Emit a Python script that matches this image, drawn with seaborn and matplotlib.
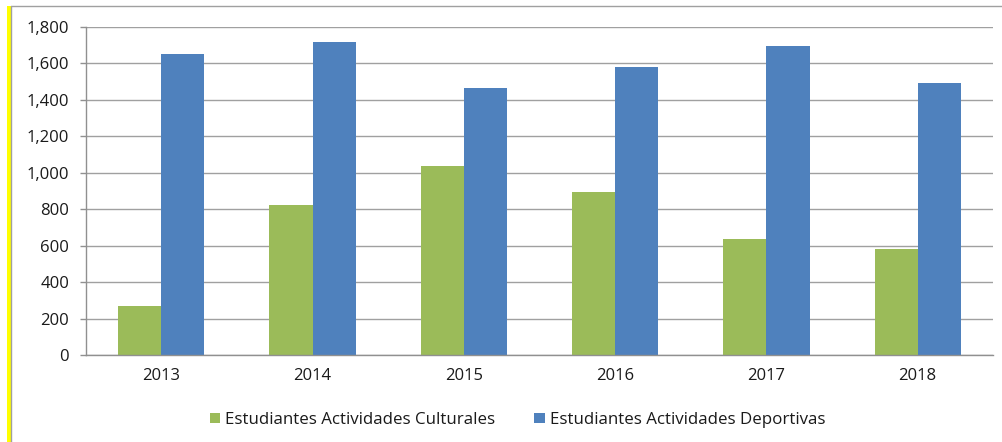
# bar chart: estudiantes en actividades culturales vs deportivas

import seaborn as sns
import matplotlib.pyplot as plt
import pandas as pd
from matplotlib.patches import Rectangle
from matplotlib.lines import Line2D

# values
years = ['2013', '2014', '2015', '2016', '2017', '2018']
culturales = [270, 821, 1035, 891, 637, 583]
deportivas = [1650, 1716, 1463, 1577, 1694, 1494]
series_names = ['Estudiantes Actividades Culturales', 'Estudiantes Actividades Deportivas']
colors = ['#9BBB59', '#4F81BD']

# long format for seaborn
data = pd.DataFrame({
    'year': years * 2,
    'value': culturales + deportivas,
    'serie': [series_names[0]] * len(years) + [series_names[1]] * len(years),
})

sns.set_style('white')
plt.rcParams['font.family'] = ['Open Sans', 'DejaVu Sans']
plt.rcParams['text.color'] = '#1a1a1a'

fig = plt.figure(figsize=(10.03, 4.42), dpi=100)
ax = fig.add_axes([85.7 / 1003, 87 / 442, (993.3 - 85.7) / 1003, (355 - 26.7) / 442])

sns.barplot(data=data, x='year', y='value', hue='serie', palette=colors, saturation=1,
            width=0.57, gap=0, linewidth=0, ax=ax, legend=True)

ax.set_ylim(0, 1800)
ax.set_xlim(-0.5, len(years) - 0.5)
ax.set_yticks(range(0, 1801, 200))
ax.set_yticklabels(['{:,}'.format(v) for v in range(0, 1801, 200)])
ax.yaxis.grid(True, color='#a0a0a0', linewidth=1.0)
ax.set_axisbelow(True)
ax.set_xlabel('')
ax.set_ylabel('')

# axis lines
for side in ['top', 'right']:
    ax.spines[side].set_visible(False)
for side in ['left', 'bottom']:
    ax.spines[side].set_color('#909090')
    ax.spines[side].set_linewidth(1.0)

# category ticks sit between the groups
ax.set_xticks([i - 0.5 for i in range(len(years) + 1)], minor=True)
ax.tick_params(axis='x', which='minor', length=5, color='#909090', width=1.0, direction='out')
ax.tick_params(axis='x', which='major', length=0, pad=9, labelsize=12, labelcolor='#1a1a1a')
ax.tick_params(axis='y', length=4, color='#909090', width=1.0, direction='out', pad=8,
               labelsize=12, labelcolor='#1a1a1a', left=True)

# legend below the chart
handles, labels = ax.get_legend_handles_labels()
ax.get_legend().remove()
fig.legend(handles, labels, loc='center', bbox_to_anchor=(0.516, 0.05), ncol=2,
           frameon=False, fontsize=12.2, handlelength=0.6, handleheight=0.6,
           handletextpad=0.3, columnspacing=2.3)

# frame around the chart (yellow stripe on the left, gray edge)
fig.add_artist(Rectangle((7 / 1003, 0), 4 / 1003, 1 - 6 / 442, transform=fig.transFigure,
                         color='#FFFF00', linewidth=0))
fig.add_artist(Line2D([11.5 / 1003, 11.5 / 1003], [0, 1 - 6 / 442], transform=fig.transFigure,
                      color='#a0a0a0', linewidth=1.0))
fig.add_artist(Line2D([11 / 1003, 1], [1 - 6 / 442, 1 - 6 / 442], transform=fig.transFigure,
                      color='#a0a0a0', linewidth=1.0))

plt.savefig('out.png', dpi=100)
